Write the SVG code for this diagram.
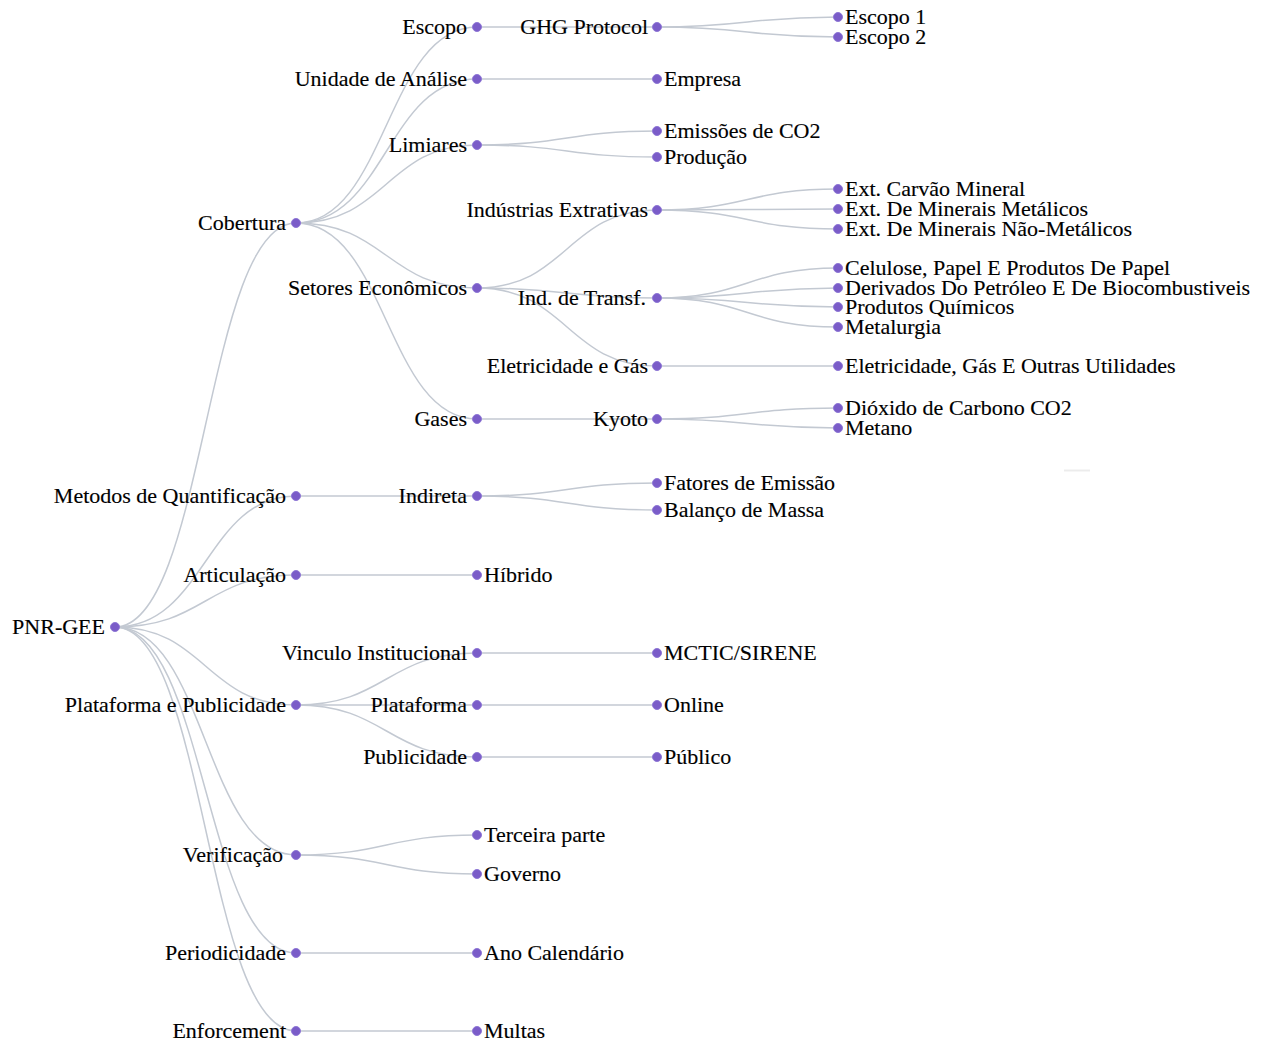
<svg xmlns="http://www.w3.org/2000/svg" width="1261" height="1045" viewBox="0 0 1261 1045">
<style>
.link{fill:none;stroke:#c3c9d2;stroke-width:1.5}
.node circle{fill:#7a5cc8;stroke:#8f78d6;stroke-width:1}
text{font-family:"Liberation Serif","Times New Roman",serif;font-size:22px;fill:#000;stroke:#000;stroke-width:0.15}
.l{text-anchor:end}
.r{text-anchor:start}
</style>
<rect width="1261" height="1045" fill="#fff"/>
<line x1="1064" y1="470.5" x2="1090" y2="470.5" stroke="#ececec" stroke-width="2"/>
<g id="links">
<path class="link" d="M115,627C205.5,627 205.5,223 296,223"/>
<path class="link" d="M115,627C205.5,627 205.5,496 296,496"/>
<path class="link" d="M115,627C205.5,627 205.5,575 296,575"/>
<path class="link" d="M115,627C205.5,627 205.5,705 296,705"/>
<path class="link" d="M115,627C205.5,627 205.5,855 296,855"/>
<path class="link" d="M115,627C205.5,627 205.5,953 296,953"/>
<path class="link" d="M115,627C205.5,627 205.5,1031 296,1031"/>
<path class="link" d="M296,223C386.5,223 386.5,27 477,27"/>
<path class="link" d="M296,223C386.5,223 386.5,79 477,79"/>
<path class="link" d="M296,223C386.5,223 386.5,145 477,145"/>
<path class="link" d="M296,223C386.5,223 386.5,288 477,288"/>
<path class="link" d="M296,223C386.5,223 386.5,419 477,419"/>
<path class="link" d="M296,496C386.5,496 386.5,496 477,496"/>
<path class="link" d="M296,575C386.5,575 386.5,575 477,575"/>
<path class="link" d="M296,705C386.5,705 386.5,653 477,653"/>
<path class="link" d="M296,705C386.5,705 386.5,705 477,705"/>
<path class="link" d="M296,705C386.5,705 386.5,757 477,757"/>
<path class="link" d="M296,855C386.5,855 386.5,835 477,835"/>
<path class="link" d="M296,855C386.5,855 386.5,874 477,874"/>
<path class="link" d="M296,953C386.5,953 386.5,953 477,953"/>
<path class="link" d="M296,1031C386.5,1031 386.5,1031 477,1031"/>
<path class="link" d="M477,27C567,27 567,27 657,27"/>
<path class="link" d="M477,79C567,79 567,79 657,79"/>
<path class="link" d="M477,145C567,145 567,131 657,131"/>
<path class="link" d="M477,145C567,145 567,157 657,157"/>
<path class="link" d="M477,288C567,288 567,210 657,210"/>
<path class="link" d="M477,288C567,288 567,298 657,298"/>
<path class="link" d="M477,288C567,288 567,366 657,366"/>
<path class="link" d="M477,419C567,419 567,419 657,419"/>
<path class="link" d="M477,496C567,496 567,483 657,483"/>
<path class="link" d="M477,496C567,496 567,510 657,510"/>
<path class="link" d="M477,653C567,653 567,653 657,653"/>
<path class="link" d="M477,705C567,705 567,705 657,705"/>
<path class="link" d="M477,757C567,757 567,757 657,757"/>
<path class="link" d="M657,27C747.5,27 747.5,17 838,17"/>
<path class="link" d="M657,27C747.5,27 747.5,37 838,37"/>
<path class="link" d="M657,210C747.5,210 747.5,189 838,189"/>
<path class="link" d="M657,210C747.5,210 747.5,209 838,209"/>
<path class="link" d="M657,210C747.5,210 747.5,229 838,229"/>
<path class="link" d="M657,298C747.5,298 747.5,268 838,268"/>
<path class="link" d="M657,298C747.5,298 747.5,288 838,288"/>
<path class="link" d="M657,298C747.5,298 747.5,307 838,307"/>
<path class="link" d="M657,298C747.5,298 747.5,327 838,327"/>
<path class="link" d="M657,366C747.5,366 747.5,366 838,366"/>
<path class="link" d="M657,419C747.5,419 747.5,408 838,408"/>
<path class="link" d="M657,419C747.5,419 747.5,428 838,428"/>
</g>
<g id="n-root" class="node"><circle cx="115" cy="627" r="4.5"/><text class="l" x="105" y="634">PNR-GEE</text></g>
<g id="n-cobertura" class="node"><circle cx="296" cy="223" r="4.5"/><text class="l" x="286" y="230">Cobertura</text></g>
<g id="n-metodos" class="node"><circle cx="296" cy="496" r="4.5"/><text class="l" x="286" y="503">Metodos de Quantificação</text></g>
<g id="n-articulacao" class="node"><circle cx="296" cy="575" r="4.5"/><text class="l" x="286" y="582">Articulação</text></g>
<g id="n-plat-pub" class="node"><circle cx="296" cy="705" r="4.5"/><text class="l" x="286" y="712">Plataforma e Publicidade</text></g>
<g id="n-verificacao" class="node"><circle cx="296" cy="855" r="4.5"/><text class="l" x="283" y="862">Verificação</text></g>
<g id="n-periodicidade" class="node"><circle cx="296" cy="953" r="4.5"/><text class="l" x="286" y="960">Periodicidade</text></g>
<g id="n-enforcement" class="node"><circle cx="296" cy="1031" r="4.5"/><text class="l" x="286" y="1038">Enforcement</text></g>
<g id="n-escopo" class="node"><circle cx="477" cy="27" r="4.5"/><text class="l" x="467" y="34">Escopo</text></g>
<g id="n-unidade" class="node"><circle cx="477" cy="79" r="4.5"/><text class="l" x="467" y="86">Unidade de Análise</text></g>
<g id="n-limiares" class="node"><circle cx="477" cy="145" r="4.5"/><text class="l" x="467" y="152">Limiares</text></g>
<g id="n-setores" class="node"><circle cx="477" cy="288" r="4.5"/><text class="l" x="467" y="295">Setores Econômicos</text></g>
<g id="n-gases" class="node"><circle cx="477" cy="419" r="4.5"/><text class="l" x="467" y="426">Gases</text></g>
<g id="n-indireta" class="node"><circle cx="477" cy="496" r="4.5"/><text class="l" x="467" y="503">Indireta</text></g>
<g id="n-hibrido" class="node"><circle cx="477" cy="575" r="4.5"/><text class="r" x="484" y="582">Híbrido</text></g>
<g id="n-vinculo" class="node"><circle cx="477" cy="653" r="4.5"/><text class="l" x="467" y="660">Vinculo Institucional</text></g>
<g id="n-plataforma" class="node"><circle cx="477" cy="705" r="4.5"/><text class="l" x="467" y="712">Plataforma</text></g>
<g id="n-publicidade" class="node"><circle cx="477" cy="757" r="4.5"/><text class="l" x="467" y="764">Publicidade</text></g>
<g id="n-terceira" class="node"><circle cx="477" cy="835" r="4.5"/><text class="r" x="484" y="842">Terceira parte</text></g>
<g id="n-governo" class="node"><circle cx="477" cy="874" r="4.5"/><text class="r" x="484" y="881">Governo</text></g>
<g id="n-ano" class="node"><circle cx="477" cy="953" r="4.5"/><text class="r" x="484" y="960">Ano Calendário</text></g>
<g id="n-multas" class="node"><circle cx="477" cy="1031" r="4.5"/><text class="r" x="484" y="1038">Multas</text></g>
<g id="n-ghg" class="node"><circle cx="657" cy="27" r="4.5"/><text class="l" x="648" y="34">GHG Protocol</text></g>
<g id="n-empresa" class="node"><circle cx="657" cy="79" r="4.5"/><text class="r" x="664" y="86">Empresa</text></g>
<g id="n-emissoes" class="node"><circle cx="657" cy="131" r="4.5"/><text class="r" x="664" y="138">Emissões de CO2</text></g>
<g id="n-producao" class="node"><circle cx="657" cy="157" r="4.5"/><text class="r" x="664" y="164">Produção</text></g>
<g id="n-extrativas" class="node"><circle cx="657" cy="210" r="4.5"/><text class="l" x="648" y="217">Indústrias Extrativas</text></g>
<g id="n-transf" class="node"><circle cx="657" cy="298" r="4.5"/><text class="l" x="646" y="305">Ind. de Transf.</text></g>
<g id="n-eletricidade" class="node"><circle cx="657" cy="366" r="4.5"/><text class="l" x="648" y="373">Eletricidade e Gás</text></g>
<g id="n-kyoto" class="node"><circle cx="657" cy="419" r="4.5"/><text class="l" x="648" y="426">Kyoto</text></g>
<g id="n-fatores" class="node"><circle cx="657" cy="483" r="4.5"/><text class="r" x="664" y="490">Fatores de Emissão</text></g>
<g id="n-balanco" class="node"><circle cx="657" cy="510" r="4.5"/><text class="r" x="664" y="517">Balanço de Massa</text></g>
<g id="n-mctic" class="node"><circle cx="657" cy="653" r="4.5"/><text class="r" x="664" y="660">MCTIC/SIRENE</text></g>
<g id="n-online" class="node"><circle cx="657" cy="705" r="4.5"/><text class="r" x="664" y="712">Online</text></g>
<g id="n-publico" class="node"><circle cx="657" cy="757" r="4.5"/><text class="r" x="664" y="764">Público</text></g>
<g id="n-escopo1" class="node"><circle cx="838" cy="17" r="4.5"/><text class="r" x="845" y="24">Escopo 1</text></g>
<g id="n-escopo2" class="node"><circle cx="838" cy="37" r="4.5"/><text class="r" x="845" y="44">Escopo 2</text></g>
<g id="n-carvao" class="node"><circle cx="838" cy="189" r="4.5"/><text class="r" x="845" y="196">Ext. Carvão Mineral</text></g>
<g id="n-metalicos" class="node"><circle cx="838" cy="209" r="4.5"/><text class="r" x="845" y="216">Ext. De Minerais Metálicos</text></g>
<g id="n-naometalicos" class="node"><circle cx="838" cy="229" r="4.5"/><text class="r" x="845" y="236">Ext. De Minerais Não-Metálicos</text></g>
<g id="n-celulose" class="node"><circle cx="838" cy="268" r="4.5"/><text class="r" x="845" y="275">Celulose, Papel E Produtos De Papel</text></g>
<g id="n-derivados" class="node"><circle cx="838" cy="288" r="4.5"/><text class="r" x="845" y="295">Derivados Do Petróleo E De Biocombustiveis</text></g>
<g id="n-quimicos" class="node"><circle cx="838" cy="307" r="4.5"/><text class="r" x="845" y="314">Produtos Químicos</text></g>
<g id="n-metalurgia" class="node"><circle cx="838" cy="327" r="4.5"/><text class="r" x="845" y="334">Metalurgia</text></g>
<g id="n-utilidades" class="node"><circle cx="838" cy="366" r="4.5"/><text class="r" x="845" y="373">Eletricidade, Gás E Outras Utilidades</text></g>
<g id="n-dioxido" class="node"><circle cx="838" cy="408" r="4.5"/><text class="r" x="845" y="415">Dióxido de Carbono CO2</text></g>
<g id="n-metano" class="node"><circle cx="838" cy="428" r="4.5"/><text class="r" x="845" y="435">Metano</text></g>
</svg>
